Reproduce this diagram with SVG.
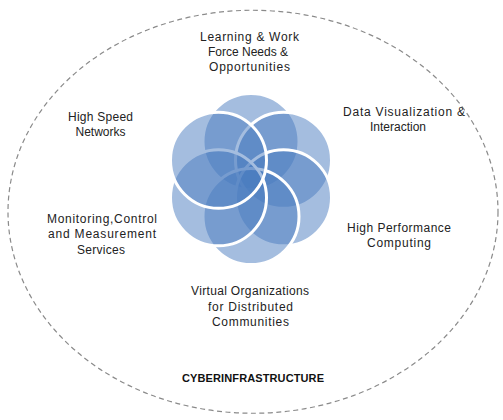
<svg xmlns="http://www.w3.org/2000/svg" width="503" height="420" viewBox="0 0 503 420">
<style>
.lbl{font-family:"Liberation Sans",Arial,sans-serif;font-size:12px;fill:#222;text-anchor:middle}
.ttl{font-family:"Liberation Sans",Arial,sans-serif;font-size:11px;font-weight:bold;fill:#111;text-anchor:middle}
.pet{fill:#4a7cbf;fill-opacity:0.5;stroke:#fff;stroke-width:3}
</style>
<g id="boundary">
<ellipse cx="253" cy="211.75" rx="245" ry="201.5" fill="none" stroke="#8a8a8a" stroke-width="1.2" stroke-dasharray="5 3.5"/>
</g>
<g id="flower">
<circle id="cT" class="pet" cx="251" cy="141.5" r="48"/>
<circle id="cUR" class="pet" cx="283.5" cy="160.25" r="48"/>
<circle id="cLR" class="pet" cx="283.5" cy="197.75" r="48"/>
<circle id="cB" class="pet" cx="251" cy="216.5" r="48"/>
<circle id="cLL" class="pet" cx="218.5" cy="197.75" r="48"/>
<circle id="cUL" class="pet" cx="218.5" cy="160.25" r="48"/>
</g>
<g id="learning">
<text class="lbl" x="249.5" y="41" textLength="99">Learning &amp; Work</text>
<text class="lbl" x="248" y="56" textLength="80">Force Needs &amp;</text>
<text class="lbl" x="249.5" y="71" textLength="81">Opportunities</text>
</g>
<g id="networks">
<text class="lbl" x="100.5" y="121" textLength="65">High Speed</text>
<text class="lbl" x="100.5" y="136">Networks</text>
</g>
<g id="dataviz">
<text class="lbl" x="404" y="116" textLength="122">Data Visualization &amp;</text>
<text class="lbl" x="398" y="131">Interaction</text>
</g>
<g id="monitoring">
<text class="lbl" x="102" y="222.5" textLength="110">Monitoring,Control</text>
<text class="lbl" x="102" y="238" textLength="108">and Measurement</text>
<text class="lbl" x="101" y="253.5" textLength="48">Services</text>
</g>
<g id="hpc">
<text class="lbl" x="399" y="231.5" textLength="104">High Performance</text>
<text class="lbl" x="399" y="246.5" textLength="64">Computing</text>
</g>
<g id="virtual">
<text class="lbl" x="250" y="295" textLength="118">Virtual Organizations</text>
<text class="lbl" x="250.5" y="310.5" textLength="85">for Distributed</text>
<text class="lbl" x="250.5" y="326" textLength="77">Communities</text>
</g>
<g id="cyber">
<text class="ttl" x="253" y="382" textLength="142">CYBERINFRASTRUCTURE</text>
</g>
</svg>
